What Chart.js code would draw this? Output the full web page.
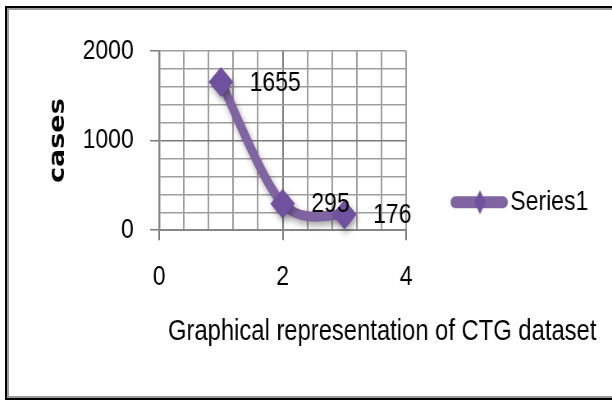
<!DOCTYPE html>
<html>
<head>
<meta charset="utf-8">
<style>
  html, body { margin: 0; padding: 0; background: #fff; overflow: hidden; }
  #wrap { position: relative; width: 612px; height: 401px; overflow: hidden; }
  /* chart is laid out wide and squeezed horizontally for the narrow lettering */
  #squeeze { position: absolute; left: 0; top: 0; width: 746px; height: 401px;
             transform: scaleX(0.8204); transform-origin: 0 0; }
  #chart { display: block; }
  /* framed box around the chart, open on the right */
  .frame {
    position: absolute; left: 5px; top: 6px; width: 630px; height: 394px;
    box-sizing: border-box; border: 2px solid #000;
    box-shadow: inset 0 0 0 2px #9c9c9c; pointer-events: none;
  }
</style>
<script src="https://cdn.jsdelivr.net/npm/chart.js@4/dist/chart.umd.min.js"></script>
</head>
<body>
<div id="wrap">
  <div id="squeeze"><canvas id="chart" width="746" height="401"></canvas></div>
  <div class="frame"></div>
</div>
<script>
(function () {
    "use strict";

    const seriesName = "Series1";
    const xValues = [1, 2, 3];
    const cases = [1655, 295, 176];
    const xTickLabels = [0, 2, 4];
    const yTickLabels = [0, 1000, 2000];
    const xTitle = "Graphical representation of CTG dataset";
    const yTitle = "cases";

    const SANS = "'Liberation Sans', Arial, sans-serif";
    const LINE = "#8064a2";
    const MARK = "#6f51a0";
    const GRID = "#9e9e9e";
    const MAJOR = "#7a7a7a";

    /* ---------------- Legend icon: thick line with a diamond ---------------- */
    function makeLegendIcon() {
        const c = document.createElement("canvas");
        c.width = 121; c.height = 28;
        const g = c.getContext("2d");
        const x0 = 57, x1 = 115, cy = 14;   // left part stays transparent
        g.strokeStyle = LINE;
        g.lineWidth = 12;
        g.lineCap = "round";
        g.beginPath(); g.moveTo(x0, cy); g.lineTo(x1, cy); g.stroke();
        const mx = (x0 + x1) / 2 + 1;
        g.fillStyle = MARK;
        g.beginPath();
        g.moveTo(mx, cy - 12); g.lineTo(mx + 7, cy); g.lineTo(mx, cy + 12); g.lineTo(mx - 7, cy);
        g.closePath(); g.fill();
        return c;
    }

    /* ---------------- Plugins ---------------- */

    // office-style smoothing: control points at 1/6 of the neighbour span
    const officeSmooth = {
        id: "officeSmooth",
        beforeDatasetsDraw(chart) {
            const meta = chart.getDatasetMeta(0);
            const line = meta.dataset;
            const pts = meta.data;
            if (!line || pts.length < 2) return;
            line.updateControlPoints(chart.chartArea);
            const n = pts.length;
            for (let i = 0; i < n; i++) {
                const prev = pts[Math.max(i - 1, 0)];
                const next = pts[Math.min(i + 1, n - 1)];
                const dx = (next.x - prev.x) / 6;
                const dy = (next.y - prev.y) / 6;
                pts[i].cp1x = pts[i].x - dx; pts[i].cp1y = pts[i].y - dy;
                pts[i].cp2x = pts[i].x + dx; pts[i].cp2y = pts[i].y + dy;
            }
            line._path = undefined;
        }
    };

    const softShadow = {
        id: "softShadow",
        beforeDatasetsDraw(chart) {
            const ctx = chart.ctx;
            ctx.save();
            ctx.shadowColor = "rgba(0,0,0,0.35)";
            ctx.shadowBlur = 7;
            ctx.shadowOffsetX = 2;
            ctx.shadowOffsetY = 4;
        },
        afterDatasetsDraw(chart) {
            chart.ctx.restore();
        }
    };

    const valueLabels = {
        id: "valueLabels",
        afterDatasetsDraw(chart) {
            const ctx = chart.ctx;
            ctx.save();
            ctx.font = "28px " + SANS;
            ctx.fillStyle = "#000";
            ctx.textAlign = "left";
            ctx.textBaseline = "middle";
            chart.getDatasetMeta(0).data.forEach((pt, i) => {
                ctx.fillText(String(cases[i]), pt.x + 35, pt.y + 1);
            });
            ctx.restore();
        }
    };

    const isMajor = (list, v) => list.some(m => Math.abs(m - v) < 1e-6);

    new Chart(document.getElementById("chart"), {
        type: "line",
        data: {
            datasets: [{
                label: seriesName,
                data: xValues.map((x, i) => ({ x, y: cases[i] })),
                borderColor: LINE,
                borderWidth: 10,
                borderCapStyle: "round",
                borderJoinStyle: "round",
                tension: 0.3,
                pointStyle: "rectRot",
                pointRadius: 15,
                pointBorderWidth: 0,
                pointBackgroundColor: MARK,
                pointBorderColor: MARK,
                clip: false
            }]
        },
        options: {
            responsive: false,
            devicePixelRatio: 1,
            animation: false,
            events: [],
            layout: { padding: { top: 51, right: 19, bottom: 0, left: 0 } },
            scales: {
                x: {
                    type: "linear",
                    min: 0, max: 4,
                    afterFit(scale) { scale.height = 84; },
                    ticks: {
                        stepSize: 0.4,
                        autoSkip: false,
                        maxRotation: 0,
                        padding: 20,
                        color: "#000",
                        font: { family: SANS, size: 28 },
                        callback: v => isMajor(xTickLabels, v) ? String(v) : ""
                    },
                    grid: {
                        color: c => c.tick.value === 2 ? MAJOR : GRID,
                        lineWidth: 2,
                        tickLength: 10,
                        tickColor: c => isMajor(xTickLabels, c.tick.value) ? MAJOR : "rgba(0,0,0,0)"
                    },
                    border: { color: "#868686", width: 2 }
                },
                y: {
                    min: 0, max: 2000,
                    afterFit(scale) { scale.width = 194; },
                    ticks: {
                        stepSize: 200,
                        autoSkip: false,
                        padding: 20,
                        color: "#000",
                        font: { family: SANS, size: 28 },
                        callback: v => isMajor(yTickLabels, v) ? String(v) : ""
                    },
                    grid: {
                        color: c => c.tick.value === 1000 ? MAJOR : GRID,
                        lineWidth: 1.5,
                        tickLength: 11,
                        tickColor: c => isMajor(yTickLabels, c.tick.value) ? MAJOR : "rgba(0,0,0,0)"
                    },
                    border: { color: "#868686", width: 2.5 },
                    title: {
                        display: true,
                        text: yTitle,
                        color: "#000",
                        font: { family: "'DejaVu Sans', Verdana, sans-serif", size: 27, weight: "bold" },
                        padding: { top: 55, bottom: 0 }
                    }
                }
            },
            plugins: {
                tooltip: { enabled: false },
                title: {
                    display: true,
                    position: "bottom",
                    align: "end",
                    text: xTitle,
                    color: "#000",
                    font: { family: SANS, size: 29, weight: "normal" },
                    padding: { top: 0, bottom: 52 }
                },
                legend: {
                    position: "right",
                    align: "end",
                    fullSize: false,
                    maxWidth: 260,
                    labels: {
                        usePointStyle: true,
                        pointStyle: makeLegendIcon(),
                        pointStyleWidth: 99,
                        padding: 14,
                        color: "#000",
                        font: { family: SANS, size: 28 }
                    }
                }
            }
        },
        plugins: [officeSmooth, softShadow, valueLabels]
    });
})();
</script>
</body>
</html>
